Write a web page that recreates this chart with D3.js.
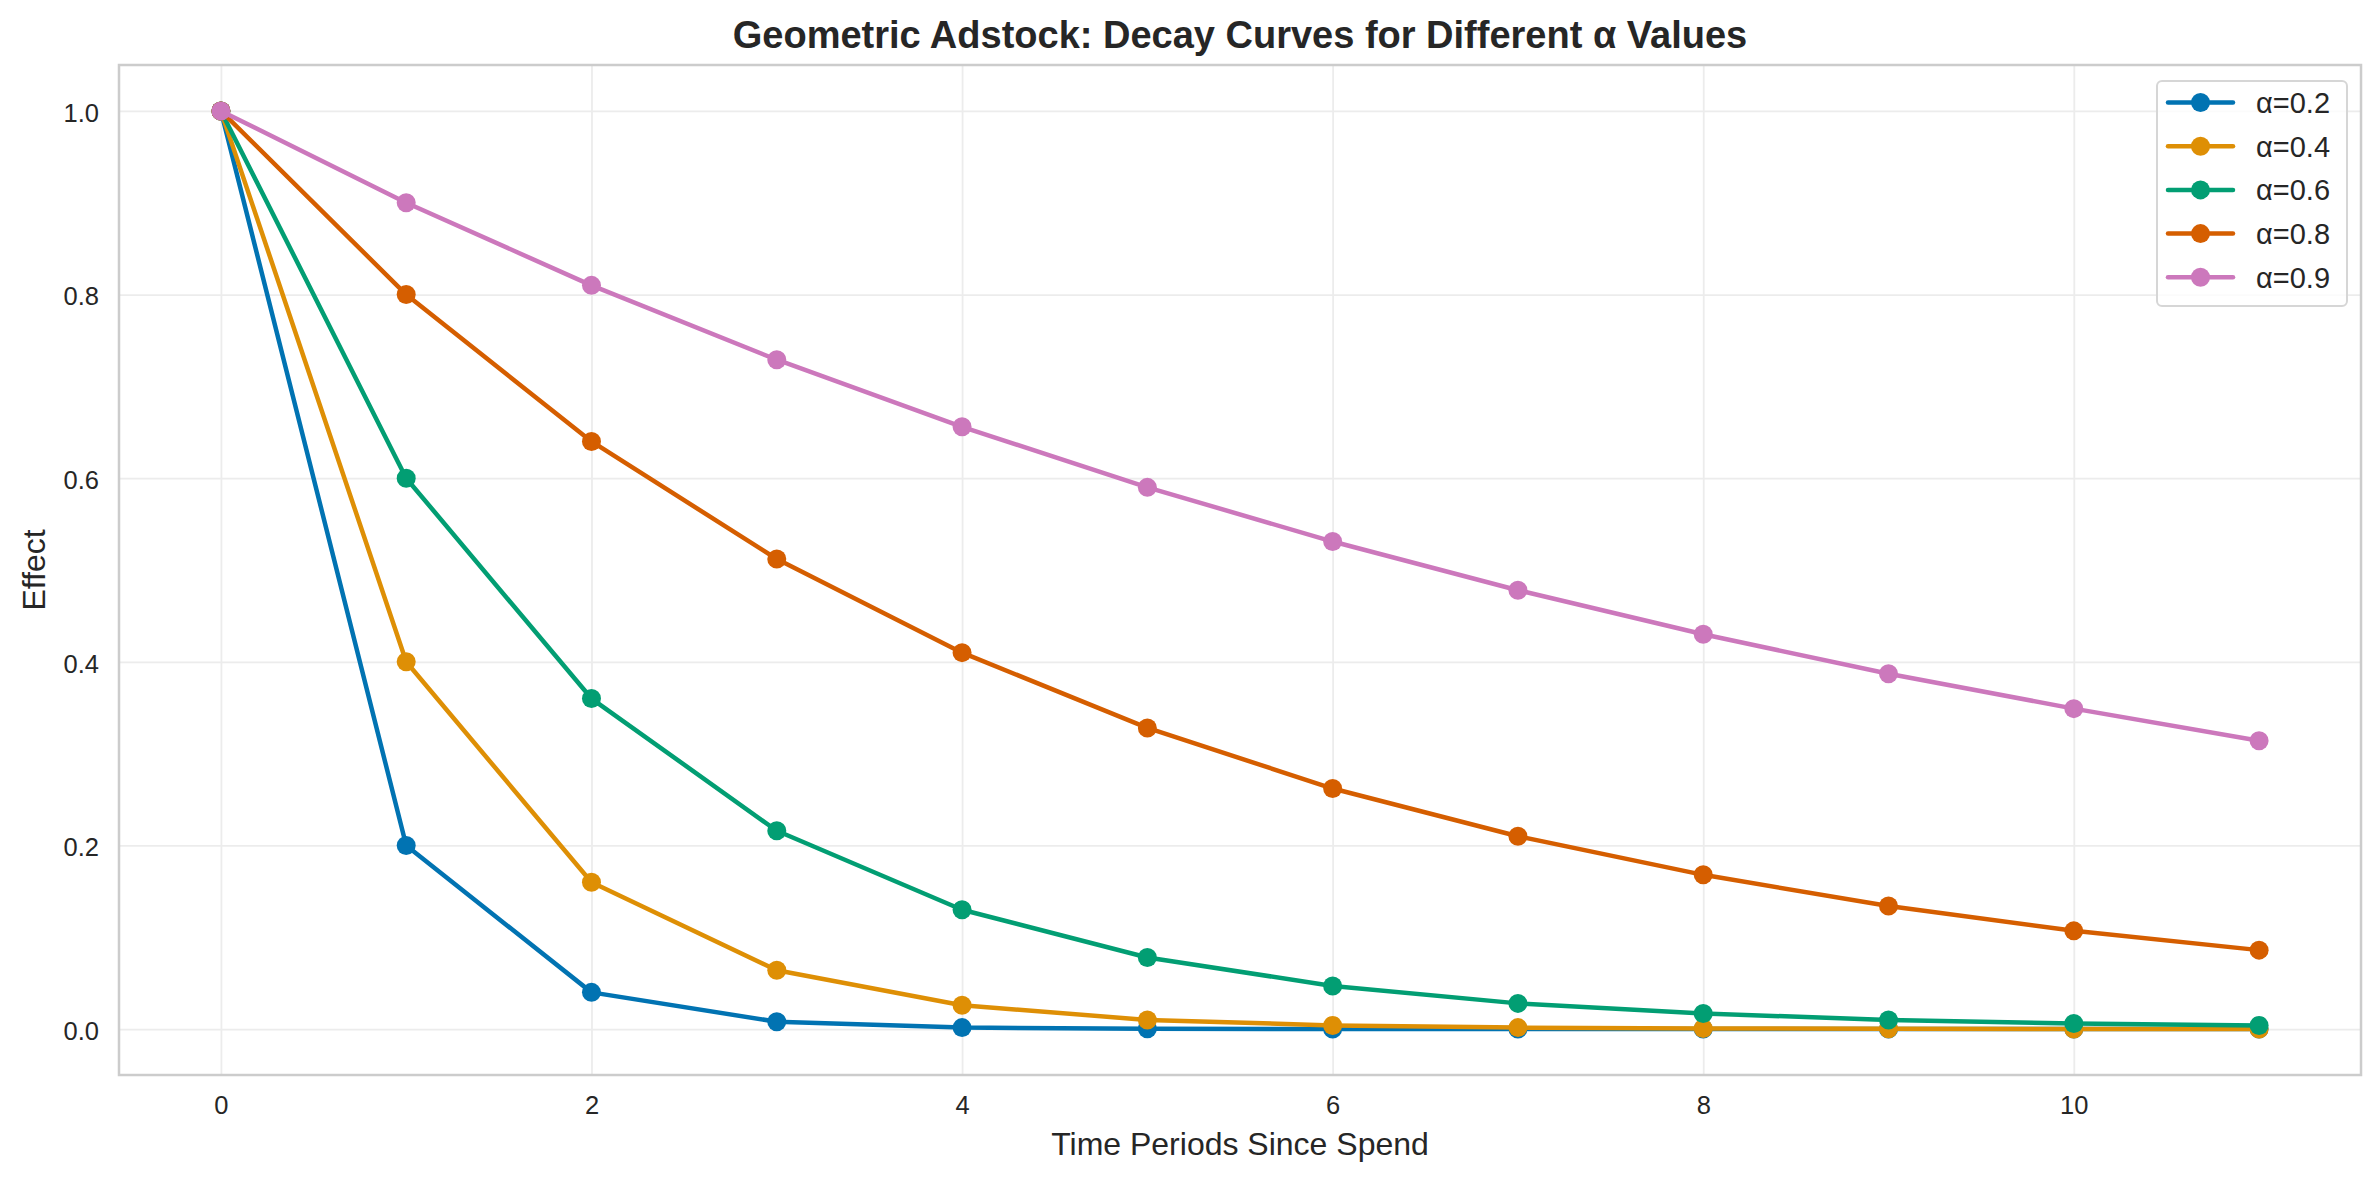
<!DOCTYPE html>
<html>
<head>
<meta charset="utf-8">
<script src="https://cdn.jsdelivr.net/npm/d3@7"></script>
<style>
    body { margin: 0; background: #fff; }
    text { font-family: "Liberation Sans", Arial, sans-serif; fill: #262626; }
</style>
</head>
<body>
<div id="chart"></div>
<script>
///////////////////////////
// DATA
///////////////////////////

const periods = [0, 1, 2, 3, 4, 5, 6, 7, 8, 9, 10, 11];
const seriesNames = ['α=0.2', 'α=0.4', 'α=0.6', 'α=0.8', 'α=0.9'];
const colors = ['#0173b2', '#de8f05', '#029e73', '#d55e00', '#cc78bc'];

const effect02 = [1.0, 0.2, 0.04, 0.008, 0.0016, 0.0003, 0.0001, 0.0, 0.0, 0.0, 0.0, 0.0];
const effect04 = [1.0, 0.4, 0.16, 0.064, 0.026, 0.010, 0.004, 0.0016, 0.0007, 0.0003, 0.0001, 0.0];
const effect06 = [1.0, 0.6, 0.36, 0.216, 0.130, 0.078, 0.047, 0.028, 0.017, 0.010, 0.006, 0.004];
const effect08 = [1.0, 0.8, 0.64, 0.512, 0.410, 0.328, 0.262, 0.210, 0.168, 0.134, 0.107, 0.086];
const effect09 = [1.0, 0.9, 0.81, 0.729, 0.656, 0.590, 0.531, 0.478, 0.430, 0.387, 0.349, 0.314];

const xTicks = [0, 2, 4, 6, 8, 10];
const yTicks = [0.0, 0.2, 0.4, 0.6, 0.8, 1.0];

const title = 'Geometric Adstock: Decay Curves for Different α Values';
const xLabel = 'Time Periods Since Spend';
const yLabel = 'Effect';

///////////////////////////
// LAYOUT
///////////////////////////

const width = 2380;
const height = 1183;
const margin = { top: 65, right: 19, bottom: 108, left: 119 };
const innerW = width - margin.left - margin.right;
const innerH = height - margin.top - margin.bottom;

const series = [effect02, effect04, effect06, effect08, effect09].map((values, i) => {
    return {
        name: seriesNames[i],
        color: colors[i],
        points: periods.map((p, j) => ({ x: p, y: values[j] }))
    };
});

const x = d3.scaleLinear()
    .domain([-0.55, 11.55])
    .range([0, innerW]);

const y = d3.scaleLinear()
    .domain([-0.05, 1.05])
    .range([innerH, 0]);

const svg = d3.select('#chart')
    .append('svg')
    .attr('width', width)
    .attr('height', height);

const plot = svg.append('g')
    .attr('transform', `translate(${margin.left},${margin.top})`);

// grid
plot.append('g')
    .attr('class', 'grid-x')
    .attr('transform', `translate(0,${innerH})`)
    .call(d3.axisBottom(x).tickValues(xTicks).tickSize(-innerH).tickFormat(''))
    .call(g => g.select('.domain').remove())
    .selectAll('line')
    .style('stroke', '#ececec')
    .style('stroke-width', 1.8);

plot.append('g')
    .attr('class', 'grid-y')
    .call(d3.axisLeft(y).tickValues(yTicks).tickSize(-innerW).tickFormat(''))
    .call(g => g.select('.domain').remove())
    .selectAll('line')
    .style('stroke', '#ececec')
    .style('stroke-width', 1.8);

// axes frame
plot.append('rect')
    .attr('x', 0)
    .attr('y', 0)
    .attr('width', innerW)
    .attr('height', innerH)
    .style('fill', 'none')
    .style('stroke', '#cccccc')
    .style('stroke-width', 2.5);

// tick labels
const xAxis = plot.append('g')
    .attr('transform', `translate(0,${innerH})`)
    .call(d3.axisBottom(x).tickValues(xTicks).tickSize(0).tickPadding(21).tickFormat(d3.format('d')));
xAxis.select('.domain').remove();
xAxis.selectAll('text')
    .style('font-size', '25.5px')
    .style('font-family', '"Liberation Sans", Arial, sans-serif')
    .style('fill', '#262626');

const yAxis = plot.append('g')
    .call(d3.axisLeft(y).tickValues(yTicks).tickSize(0).tickPadding(20).tickFormat(d3.format('.1f')));
yAxis.select('.domain').remove();
yAxis.selectAll('text')
    .attr('dy', '0.4em')
    .style('font-size', '25.5px')
    .style('font-family', '"Liberation Sans", Arial, sans-serif')
    .style('fill', '#262626');

// lines + markers
const line = d3.line()
    .x(d => x(d.x))
    .y(d => y(d.y));

const lines = plot.selectAll('.series')
    .data(series)
    .enter().append('g')
    .attr('class', 'series');

lines.append('path')
    .attr('d', d => line(d.points))
    .style('fill', 'none')
    .style('stroke', d => d.color)
    .style('stroke-width', 4.5)
    .style('stroke-linejoin', 'round')
    .style('stroke-linecap', 'round');

lines.selectAll('circle')
    .data(d => d.points.map(p => ({ x: p.x, y: p.y, color: d.color })))
    .enter().append('circle')
    .attr('cx', d => x(d.x))
    .attr('cy', d => y(d.y))
    .attr('r', 9.5)
    .style('fill', d => d.color);

// title and labels
svg.append('text')
    .attr('x', margin.left + innerW / 2)
    .attr('y', 48)
    .attr('text-anchor', 'middle')
    .style('font-size', '38px')
    .style('font-weight', 'bold')
    .text(title);

svg.append('text')
    .attr('x', margin.left + innerW / 2)
    .attr('y', 1155)
    .attr('text-anchor', 'middle')
    .style('font-size', '32px')
    .text(xLabel);

svg.append('text')
    .attr('transform', `translate(45,${margin.top + innerH / 2}) rotate(-90)`)
    .attr('text-anchor', 'middle')
    .style('font-size', '32px')
    .text(yLabel);

// legend
const legend = svg.append('g')
    .attr('transform', 'translate(2157,81)');

legend.append('rect')
    .attr('width', 190)
    .attr('height', 225)
    .attr('rx', 5)
    .style('fill', '#fff')
    .style('fill-opacity', 0.8)
    .style('stroke', '#d6d6d6')
    .style('stroke-width', 2);

const item = legend.selectAll('.item')
    .data(series)
    .enter().append('g')
    .attr('class', 'item')
    .attr('transform', (d, i) => `translate(0,${21.5 + i * 43.7})`);

item.append('line')
    .attr('x1', 11)
    .attr('x2', 76)
    .style('stroke', d => d.color)
    .style('stroke-width', 4.5)
    .style('stroke-linecap', 'round');

item.append('circle')
    .attr('cx', 43.5)
    .attr('r', 9.5)
    .style('fill', d => d.color);

item.append('text')
    .attr('x', 99)
    .attr('y', 10.5)
    .style('font-size', '29px')
    .text(d => d.name);
</script>
</body>
</html>
